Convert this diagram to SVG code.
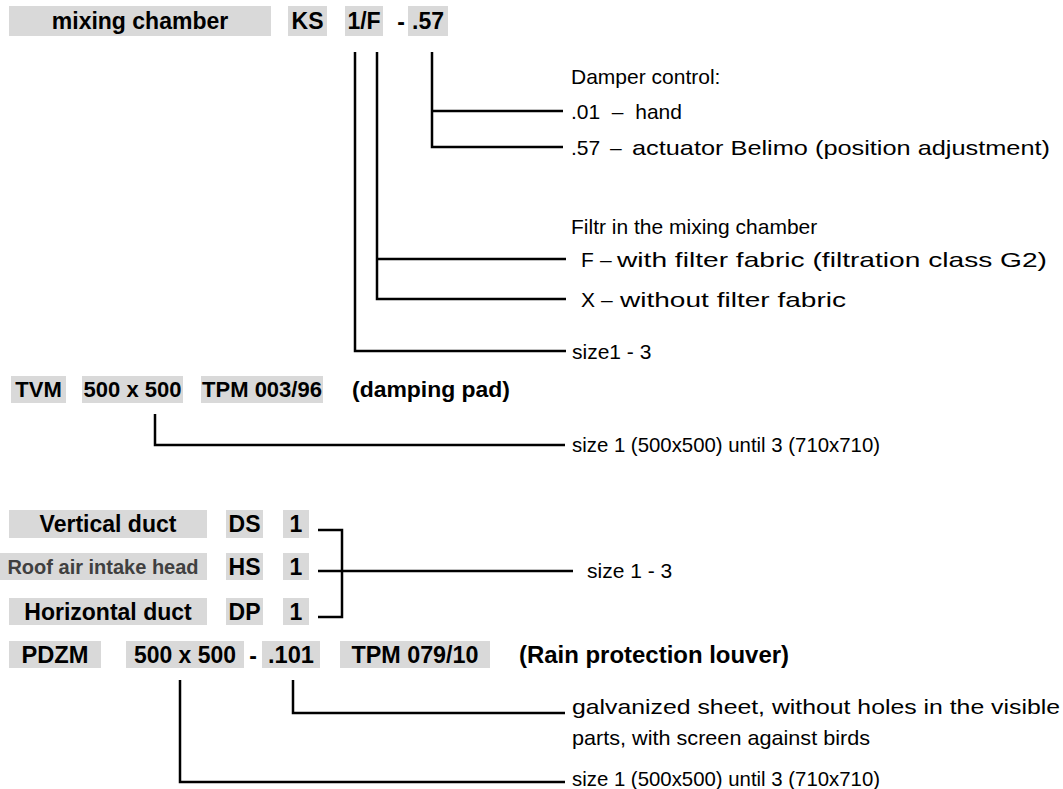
<svg xmlns="http://www.w3.org/2000/svg" width="1063" height="789" viewBox="0 0 1063 789">
<style>
  .box { fill: #d9d9d9; }
  .b { font-family: "Liberation Sans", Arial, sans-serif; font-weight: bold; fill: #000; }
  .r { font-family: "Liberation Sans", Arial, sans-serif; fill: #000; font-size: 21px; }
  .c { font-family: "Liberation Sans", Arial, sans-serif; fill: #000; font-size: 21px; }
  .h { font-size: 23px; text-anchor: middle; }
  .t { font-size: 22px; text-anchor: middle; }
  .p { font-size: 23px; text-anchor: middle; }
  .ln { fill: none; stroke: #000; stroke-width: 2.5; }
</style>
<rect width="1063" height="789" fill="#fff"/>

<g id="mixing-chamber">
  <rect class="box" x="9" y="6" width="262" height="30"/>
  <text class="b h" x="140" y="29">mixing chamber</text>
</g>
<g id="code-KS">
  <rect class="box" x="288" y="6" width="39" height="30"/>
  <text class="b h" x="307.5" y="29">KS</text>
</g>
<g id="code-1F">
  <rect class="box" x="345" y="6" width="38" height="30"/>
  <text class="b h" x="364" y="29">1/F</text>
</g>
<g id="sep-1">
  <text class="b h" x="401" y="30">-</text>
</g>
<g id="code-57">
  <rect class="box" x="408" y="6" width="40" height="30"/>
  <text class="b h" x="428" y="29">.57</text>
</g>

<g id="damper-labels">
  <text class="r" x="571" y="84">Damper control:</text>
  <text class="r" x="571" y="119" xml:space="preserve">.01  –  hand</text>
  <text class="r" x="571" y="155">.57</text>
  <text class="r" x="610" y="155">–</text>
  <text class="r" font-size="22" x="632" y="155" textLength="418" lengthAdjust="spacingAndGlyphs">actuator Belimo (position adjustment)</text>
</g>
<g id="filter-labels">
  <text class="r" x="571" y="234">Filtr in the mixing chamber</text>
  <text class="r" x="581" y="267">F</text>
  <text class="r" x="600" y="267">–</text>
  <text class="r" font-size="22" x="617" y="267" textLength="430" lengthAdjust="spacingAndGlyphs">with filter fabric (filtration class G2)</text>
  <text class="r" x="581" y="307">X</text>
  <text class="r" x="601" y="307">–</text>
  <text class="r" font-size="22" x="620" y="307" textLength="226" lengthAdjust="spacingAndGlyphs">without filter fabric</text>
  <text class="r" x="572" y="359">size1 - 3</text>
</g>

<g id="TVM">
  <rect class="box" x="11" y="376" width="55" height="27"/>
  <text class="b t" x="38.5" y="397">TVM</text>
</g>
<g id="TVM-size">
  <rect class="box" x="82" y="376" width="101" height="27"/>
  <text class="b t" x="132.5" y="397">500 x 500</text>
</g>
<g id="TPM-003">
  <rect class="box" x="201" y="376" width="122" height="27"/>
  <text class="b t" x="262" y="397">TPM 003/96</text>
</g>
<g id="damping-pad">
  <text class="b" font-size="22" x="352" y="397" textLength="158" lengthAdjust="spacingAndGlyphs">(damping pad)</text>
</g>
<g id="TVM-size-label">
  <text class="c" x="572" y="452" textLength="308" lengthAdjust="spacingAndGlyphs">size 1 (500x500) until 3 (710x710)</text>
</g>

<g id="vertical-duct">
  <rect class="box" x="9" y="510" width="198" height="28"/>
  <text class="b p" x="108" y="532">Vertical duct</text>
  <rect class="box" x="226" y="510" width="37" height="28"/>
  <text class="b p" x="244.5" y="532">DS</text>
  <rect class="box" x="283" y="510" width="26" height="28"/>
  <text class="b p" x="296" y="532">1</text>
</g>
<g id="roof-intake">
  <rect class="box" x="0" y="553" width="207" height="27"/>
  <text class="b" font-size="20" text-anchor="middle" x="103" y="574" style="fill:#404040">Roof air intake head</text>
  <rect class="box" x="226" y="553" width="37" height="27"/>
  <text class="b p" x="244.5" y="575">HS</text>
  <rect class="box" x="283" y="553" width="26" height="27"/>
  <text class="b p" x="296" y="575">1</text>
</g>
<g id="horizontal-duct">
  <rect class="box" x="9" y="598" width="198" height="27"/>
  <text class="b p" x="108" y="620">Horizontal duct</text>
  <rect class="box" x="226" y="598" width="37" height="27"/>
  <text class="b p" x="244.5" y="620">DP</text>
  <rect class="box" x="283" y="598" width="26" height="27"/>
  <text class="b p" x="296" y="620">1</text>
</g>
<g id="duct-size-label">
  <text class="r" x="587" y="578">size 1 - 3</text>
</g>

<g id="PDZM">
  <rect class="box" x="9" y="641" width="92" height="27"/>
  <text class="b" font-size="23" text-anchor="middle" x="55" y="663" textLength="67" lengthAdjust="spacingAndGlyphs">PDZM</text>
</g>
<g id="PDZM-size">
  <rect class="box" x="126" y="641" width="118" height="27"/>
  <text class="b" font-size="23" text-anchor="middle" x="185" y="663" textLength="102" lengthAdjust="spacingAndGlyphs">500 x 500</text>
</g>
<g id="sep-2">
  <text class="b" font-size="23" text-anchor="middle" x="253" y="664">-</text>
</g>
<g id="code-101">
  <rect class="box" x="262" y="641" width="58" height="27"/>
  <text class="b" font-size="23" text-anchor="middle" x="291" y="663" textLength="46" lengthAdjust="spacingAndGlyphs">.101</text>
</g>
<g id="TPM-079">
  <rect class="box" x="340" y="641" width="150" height="27"/>
  <text class="b" font-size="23" text-anchor="middle" x="415" y="663" textLength="127" lengthAdjust="spacingAndGlyphs">TPM 079/10</text>
</g>
<g id="rain-louver">
  <text class="b" font-size="23" x="519" y="663" textLength="270" lengthAdjust="spacingAndGlyphs">(Rain protection louver)</text>
</g>
<g id="PDZM-labels">
  <text class="c" font-size="22" x="572" y="714" textLength="488" lengthAdjust="spacingAndGlyphs">galvanized sheet, without holes in the visible</text>
  <text class="c" font-size="22" x="572" y="745" textLength="298" lengthAdjust="spacingAndGlyphs">parts, with screen against birds</text>
  <text class="c" x="572" y="786" textLength="308" lengthAdjust="spacingAndGlyphs">size 1 (500x500) until 3 (710x710)</text>
</g>

<g id="connectors">
  <path class="ln" d="M432 52 V147 H563 M432 111 H563"/>
  <path class="ln" d="M377 52 V299 H566 M377 259 H566"/>
  <path class="ln" d="M355 52 V351 H566"/>
  <path class="ln" d="M155 414 V445 H565"/>
  <path class="ln" d="M318 530 H342 V617 H318 M318 571 H573"/>
  <path class="ln" d="M293 680 V713 H565"/>
  <path class="ln" d="M180 680 V782 H565"/>
</g>
</svg>
